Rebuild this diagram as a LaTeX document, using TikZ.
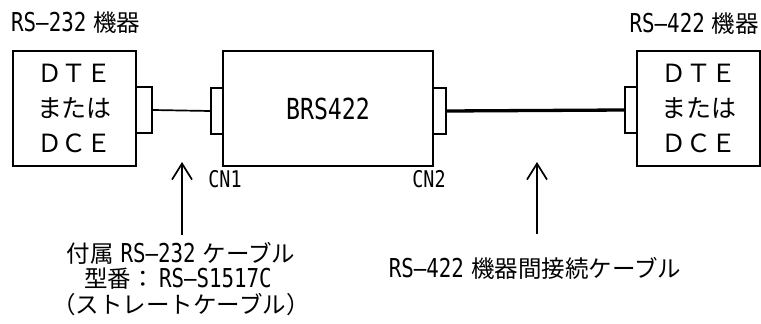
\documentclass[tikz,border=0pt]{standalone}
\usepackage{fontspec}
\setmainfont{Noto Sans CJK JP}
\newfontfamily\nar[FakeStretch=0.8]{DejaVu Sans Mono}
\newfontfamily\narb[FakeStretch=0.8]{DejaVu Sans Mono}
\usetikzlibrary{arrows.meta}
\newcommand{\jl}{\fontsize{23.5}{26}\selectfont}
\newcommand{\latn}[1]{{\nar\fontsize{26}{26}\selectfont #1}}
\newcommand{\gap}{\hspace{7pt}}
\begin{document}
\begin{tikzpicture}[x=1pt,y=-1pt,
  box/.style={draw,line width=1.7pt,inner sep=0pt,fill=white},
  conn/.style={draw,line width=1.7pt,inner sep=0pt,fill=white,minimum height=46pt},
  lbl/.style={inner sep=0pt,font=\jl},
  boxtxt/.style={inner sep=0pt,align=center,font=\fontsize{25}{35}\selectfont},
  arr/.style={line width=1.7pt,-{Straight Barb[length=16pt,width=20pt,line width=1.7pt]}}]
\useasboundingbox (0,0) rectangle (761,324);
% boxes
\node[box,minimum width=123pt,minimum height=115pt] (lbox) at (74.5,108.5) {};
\node[box,minimum width=210pt,minimum height=115pt] (brs) at (328,108.5) {};
\node[box,minimum width=123pt,minimum height=115pt] (rbox) at (698.5,108.5) {};
% connectors
\node[conn,minimum width=16pt] (lc) at (144,110) {};
\node[conn,minimum width=12pt] (c1) at (217,111) {};
\node[conn,minimum width=13pt] (c2) at (439.5,111) {};
\node[conn,minimum width=12pt] (rc) at (631,110) {};
% cables
\draw[line width=1.7pt] (lc.east) -- (c1.west);
\draw[line width=3.3pt] (c2.east) -- (rc.west);
% box texts
\node[boxtxt] (lt) at (lbox.center) {ＤＴＥ\\または\\ＤＣＥ};
\node[boxtxt] (rt) at (rbox.center) {ＤＴＥ\\または\\ＤＣＥ};
\node[inner sep=0pt] (bt) at (328,109) {\narb\fontsize{29}{29}\selectfont BRS422};
% labels
\node[lbl,anchor=west] (l232) at (11,23) {\latn{RS–232}\gap 機器};
\node[lbl,anchor=east] (l422) at (759,24) {\latn{RS–422}\gap 機器};
\node[inner sep=0pt] (cn1) at (225,179) {\nar\fontsize{23}{23}\selectfont CN1};
\node[inner sep=0pt] (cn2) at (429,179) {\nar\fontsize{23}{23}\selectfont CN2};
% bottom texts
\node[lbl] (b1) at (181,253) {付属\gap\latn{RS–232}\gap ケーブル};
\node[lbl] (b2) at (178,279) {型番：\latn{\,RS–S1517C}};
\node[lbl] (b3) at (181,305) {（ストレートケーブル）};
\node[lbl] (b4) at (535,268) {\latn{RS–422}\gap 機器間接続ケーブル};
% arrows
\coordinate (a1s) at (182,235);
\coordinate (a1e) at (182,162);
\coordinate (a2s) at (537,234);
\coordinate (a2e) at (537,162);
\draw[arr] (a1s) -- (a1e);
\draw[arr] (a2s) -- (a2e);
\end{tikzpicture}
\end{document}
